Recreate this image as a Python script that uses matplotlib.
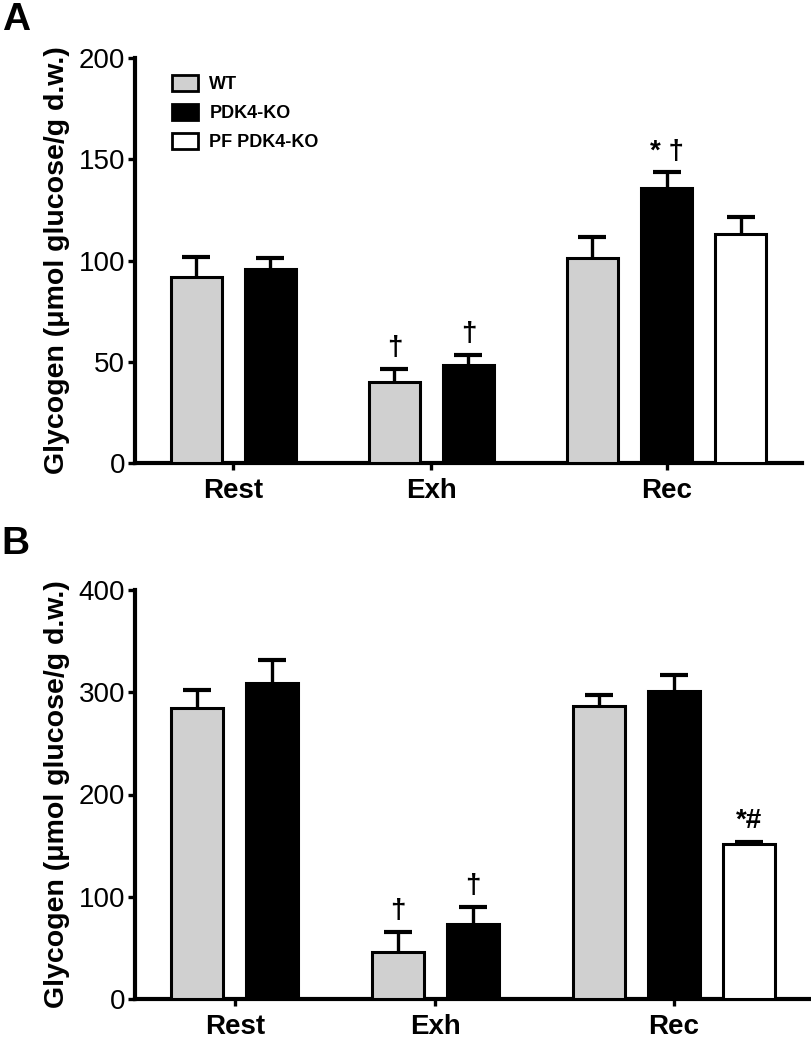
import numpy as np
import matplotlib.pyplot as plt
from matplotlib.patches import Patch

plt.rcParams['font.family'] = ['Liberation Sans', 'DejaVu Sans']

# -----------------------------------------------------
# data (glycogen, umol glucose/g d.w.)
# -----------------------------------------------------
groups = ["Rest", "Exh", "Rec"]
series = ["WT", "PDK4-KO", "PF PDK4-KO"]
colors = ["#d0d0d0", "black", "white"]
nan = np.nan

# panel A
a_wt = [92, 40, 101]
a_wt_err = [9.5, 6.5, 10.5]
a_ko = [96, 48.5, 136]
a_ko_err = [5, 5, 7.5]
a_pf = [nan, nan, 113]
a_pf_err = [nan, nan, 8.5]

# panel B
b_wt = [285, 46, 287]
b_wt_err = [17, 20, 10]
b_ko = [309, 73, 301]
b_ko_err = [23, 17, 16]
b_pf = [nan, nan, 151.5]
b_pf_err = [nan, nan, 2.5]

# significance marks: (series index, group index, text)
a_marks = [(0, 1, "\u2020"), (1, 1, "\u2020"), (1, 2, "* \u2020")]
b_marks = [(0, 1, "\u2020"), (1, 1, "\u2020"), (2, 2, "*#")]

W, H = 812, 1046
fig = plt.figure(figsize=(W / 100, H / 100), dpi=100)


def layout(vals_list, gap=0.675):
    # bars of one group sit side by side, groups separated by a gap
    xs, centers = [], []
    start = 0.0
    for g in range(len(groups)):
        n = sum(0 if np.isnan(v[g]) else 1 for v in vals_list)
        xs.append([start + k for k in range(n)])
        centers.append(start + (n - 1) / 2)
        start += n + gap
    return xs, centers


def panel(rect, vals_list, errs_list, ymax, ystep, marks, letter, letter_y, legend=False):
    ax = fig.add_axes(rect)
    xs, centers = layout(vals_list)
    pos = {}
    handles = []
    for s, (vals, errs) in enumerate(zip(vals_list, errs_list)):
        for g in range(len(groups)):
            if np.isnan(vals[g]):
                continue
            x = xs[g][s]
            pos[(s, g)] = (x, vals[g] + errs[g])
            ax.bar(x, vals[g], width=0.69, color=colors[s], edgecolor="black",
                   linewidth=2.2, zorder=3)
            eb = ax.errorbar(x, vals[g], yerr=[[0], [errs[g]]], color="black",
                             elinewidth=2.4, capsize=10, capthick=3, zorder=2)
            eb[1][0].set_visible(False)   # upper error only
        handles.append(Patch(facecolor=colors[s], edgecolor="black", linewidth=2,
                             label=series[s]))

    for s, g, txt in marks:
        x, y = pos[(s, g)]
        ax.annotate(txt, (x, y), xytext=(0, 10), textcoords="offset points",
                    ha="center", va="baseline", fontsize=20, fontweight="bold")

    ax.set_xlim(-0.83, xs[-1][-1] + 0.83)
    ax.set_ylim(0, ymax)
    ax.set_yticks(np.arange(0, ymax + 1, ystep))
    ax.set_xticks(centers)
    ax.set_xticklabels(groups, fontsize=20, fontweight="bold")
    ax.tick_params(axis="y", labelsize=20, width=2.4, length=5, pad=2)
    ax.tick_params(axis="x", width=2.4, length=5, pad=6)
    for side in ["top", "right"]:
        ax.spines[side].set_visible(False)
    for side in ["left", "bottom"]:
        ax.spines[side].set_linewidth(3)
    ax.set_ylabel("Glycogen (\u03bcmol glucose/g d.w.)", fontsize=20.5,
                  fontweight="bold", labelpad=6)
    fig.text(0.002, letter_y, letter, fontsize=28, fontweight="bold", va="top")

    if legend:
        ax.legend(handles=handles, loc="upper left", bbox_to_anchor=(0.045, 0.975),
                  frameon=False, prop={"size": 13, "weight": "bold"},
                  handlelength=1.45, handleheight=0.95, labelspacing=0.6,
                  handletextpad=0.6, borderaxespad=0)
    return ax


left = 135 / W
panel([left, 1 - 463 / H, (802 - 135) / W, (463 - 58) / H],
      [a_wt, a_ko, a_pf], [a_wt_err, a_ko_err, a_pf_err], 200, 50,
      a_marks, "A", 1 - 2 / H, legend=True)
panel([left, 1 - 999 / H, (811 - 135) / W, (999 - 590) / H],
      [b_wt, b_ko, b_pf], [b_wt_err, b_ko_err, b_pf_err], 400, 100,
      b_marks, "B", 1 - 526 / H)

fig.savefig("out.png", dpi=100)
